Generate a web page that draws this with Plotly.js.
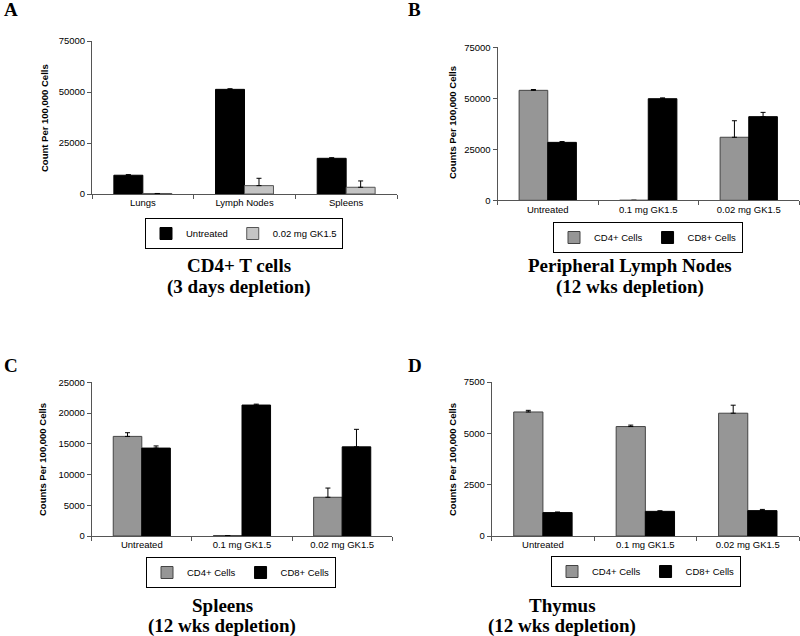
<!DOCTYPE html>
<html>
<head>
<meta charset="utf-8">
<script src="https://cdn.plot.ly/plotly-3.0.1.min.js"></script>
<style>html,body{margin:0;padding:0;background:#fff;}#chart{width:800px;height:636px;}</style>
</head>
<body>
<div id="chart"></div>
<script>
// ---- Data ----
const catsA = ["Lungs", "Lymph Nodes", "Spleens"];
const untreatedA = [9200, 51300, 17500];
const untreatedAErr = [300, 300, 300];
const gkA = [250, 4100, 3300];
const gkAErr = [0, 3600, 3100];

const catsBCD = ["Untreated", "0.1 mg GK1.5", "0.02 mg GK1.5"];
const cd4B = [53900, 0, 30900];
const cd4BErr = [400, 0, 8100];
const cd8B = [28400, 49800, 41000];
const cd8BErr = [400, 400, 2100];

const cd4C = [16200, 80, 6300];
const cd4CErr = [600, 0, 1500];
const cd8C = [14300, 21300, 14500];
const cd8CErr = [350, 150, 2850];

const cd4D = [6040, 5330, 5980];
const cd4DErr = [80, 70, 390];
const cd8D = [1140, 1200, 1235];
const cd8DErr = [30, 30, 60];

const legendA = ["Untreated", "0.02 mg GK1.5"];
const legendCells = ["CD4+ Cells", "CD8+ Cells"];
const yTitleA = "Count Per 100,000 Cells";
const yTitleOther = "Counts Per 100,000 Cells";
const panelTitles = [
  ["CD4+ T cells", "(3 days depletion)"],
  ["Peripheral Lymph Nodes", "(12 wks depletion)"],
  ["Spleens", "(12 wks depletion)"],
  ["Thymus", "(12 wks depletion)"]
];
const panelLetters = ["A", "B", "C", "D"];

// ---- Styling helpers ----
const SANS = "Liberation Sans, Arial, sans-serif";
const SERIF = "Liberation Serif, Times New Roman, serif";
const W = 800, H = 636;
const px = v => v / W;
const py = v => 1 - v / H;

function bar(x, y, err, name, fill, line, xa, ya, leg) {
  return {
    type: "bar", x: x, y: y, name: name,
    xaxis: xa, yaxis: ya, legend: leg,
    marker: {color: fill, line: {color: line, width: 1}},
    error_y: {type: "data", array: err, arrayminus: err.map(() => 0), symmetric: false,
              color: "#000", thickness: 1, width: 2.5},
    hoverinfo: "skip"
  };
}

const GRAY = "#969696", LIGHT = "#c4c4c4", BLACK = "#000000";

const data = [
  bar(catsA, untreatedA, untreatedAErr, legendA[0], BLACK, "#000", "x", "y", "legend"),
  bar(catsA, gkA, gkAErr, legendA[1], LIGHT, "#555", "x", "y", "legend"),
  bar(catsBCD, cd4B, cd4BErr, legendCells[0], GRAY, "#444", "x2", "y2", "legend2"),
  bar(catsBCD, cd8B, cd8BErr, legendCells[1], BLACK, "#000", "x2", "y2", "legend2"),
  bar(catsBCD, cd4C, cd4CErr, legendCells[0], GRAY, "#444", "x3", "y3", "legend3"),
  bar(catsBCD, cd8C, cd8CErr, legendCells[1], BLACK, "#000", "x3", "y3", "legend3"),
  bar(catsBCD, cd4D, cd4DErr, legendCells[0], GRAY, "#444", "x4", "y4", "legend4"),
  bar(catsBCD, cd8D, cd8DErr, legendCells[1], BLACK, "#000", "x4", "y4", "legend4")
];

function xax(dom, anchor) {
  return {domain: dom, anchor: anchor, type: "category", showline: true, linecolor: "#555", linewidth: 1,
          ticks: "outside", tickson: "boundaries", ticklen: 4, tickcolor: "#555", showgrid: false,
          zeroline: false, tickfont: {family: SANS, size: 9.5, color: "#000"}, fixedrange: true};
}
function yax(dom, anchor, max, dtick) {
  return {domain: dom, anchor: anchor, range: [0, max], dtick: dtick, tickformat: "d",
          showline: true, linecolor: "#555", linewidth: 1, ticks: "outside", ticklen: 4, tickcolor: "#555",
          showgrid: false, zeroline: false, tickfont: {family: SANS, size: 9.5, color: "#000"}, fixedrange: true};
}
function leg(cx, top) {
  return {x: px(cx), y: py(top), xanchor: "center", yanchor: "top", orientation: "h",
          bordercolor: "#000", borderwidth: 1, bgcolor: "#fff",
          font: {family: SANS, size: 9.5, color: "#000"}, itemwidth: 30, tracegroupgap: 0};
}

const annotations = [];
function txt(text, x, y, font, opts) {
  annotations.push(Object.assign({text: text, x: px(x), y: py(y), xref: "paper", yref: "paper",
    showarrow: false, font: font, xanchor: "center", yanchor: "middle"}, opts || {}));
}
const titleFont = {family: SERIF, size: 19, color: "#000", weight: "bold"};
const letterFont = {family: SERIF, size: 19, color: "#000", weight: "bold"};
const yTitleFont = {family: SANS, size: 9.5, color: "#000", weight: "bold"};

// panel letters
txt(panelLetters[0], 2, 9, letterFont, {xanchor: "left"});
txt(panelLetters[1], 406, 9, letterFont, {xanchor: "left"});
txt(panelLetters[2], 2, 365, letterFont, {xanchor: "left"});
txt(panelLetters[3], 406, 365, letterFont, {xanchor: "left"});
// y titles
txt(yTitleA, 45, 118, yTitleFont, {textangle: -90});
txt(yTitleOther, 452, 122, yTitleFont, {textangle: -90});
txt(yTitleOther, 43, 460, yTitleFont, {textangle: -90});
txt(yTitleOther, 452, 459, yTitleFont, {textangle: -90});
// panel titles
txt(panelTitles[0][0], 239, 265, titleFont);
txt(panelTitles[0][1], 239, 287, titleFont);
txt(panelTitles[1][0], 630, 265, titleFont);
txt(panelTitles[1][1], 630, 287, titleFont);
txt(panelTitles[2][0], 222, 605, titleFont);
txt(panelTitles[2][1], 222, 626, titleFont);
txt(panelTitles[3][0], 562, 605, titleFont);
txt(panelTitles[3][1], 562, 626, titleFont);

const layout = {
  width: W, height: H,
  margin: {l: 0, r: 0, t: 0, b: 0, pad: 0},
  paper_bgcolor: "#fff", plot_bgcolor: "#fff",
  barmode: "group", bargap: 0.43, bargroupgap: 0,
  xaxis: xax([px(92), px(397)], "y"),
  yaxis: yax([py(194), py(41)], "x", 75000, 25000),
  xaxis2: xax([px(497.5), px(799)], "y2"),
  yaxis2: yax([py(200.3), py(47.3)], "x2", 75000, 25000),
  xaxis3: xax([px(91.7), px(392.3)], "y3"),
  yaxis3: yax([py(536), py(382.3)], "x3", 25000, 5000),
  xaxis4: xax([px(491.7), px(799)], "y4"),
  yaxis4: yax([py(536), py(382)], "x4", 7500, 2500),
  legend: leg(244, 218),
  legend2: leg(648, 222),
  legend3: leg(241, 557),
  legend4: leg(646, 556),
  annotations: annotations,
  showlegend: true
};

Plotly.newPlot("chart", data, layout, {staticPlot: true, displayModeBar: false});
</script>
</body>
</html>
